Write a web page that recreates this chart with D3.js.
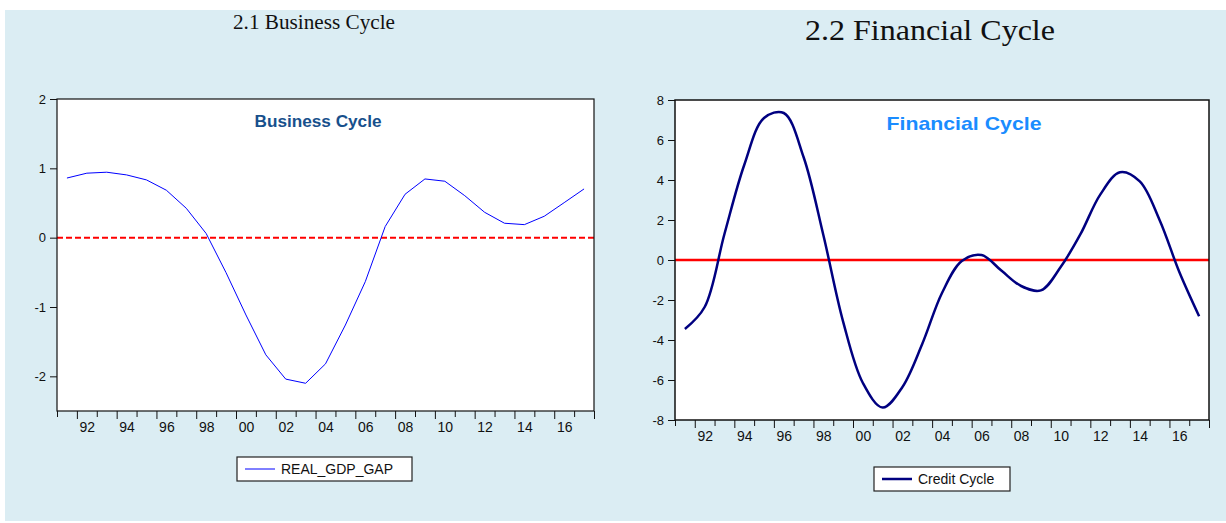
<!DOCTYPE html>
<html lang="en">
  <head>
    <meta charset="UTF-8" />
    <title>Business and Financial Cycle</title>
    <script src="https://cdn.jsdelivr.net/npm/d3@7/dist/d3.min.js"></script>
    <style>
      body { margin: 0; background: #fff; }
      .tick text { font-family: Arial, "Liberation Sans", sans-serif; fill: #111; }
      .tick line { stroke: #111; }
      .legend text { font: 14px Arial, "Liberation Sans", sans-serif; fill: #111; }
    </style>
  </head>
  <body>
    <svg width="1226" height="523"></svg>
    <script>
      const svg = d3.select("svg");

      // annual observations, 1991..2017
      const years = d3.range(1991, 2018);
      const gdpGap = [
        0.86, 0.93, 0.944, 0.905, 0.833, 0.684, 0.424, 0.06, -0.505, -1.115,
        -1.69, -2.04, -2.1, -1.82, -1.26, -0.635, 0.16, 0.626, 0.847, 0.814,
        0.606, 0.366, 0.208, 0.188, 0.309, 0.505, 0.703,
      ];
      const creditCycle = [
        -3.45, -2.35, 1.3, 4.75, 7.1, 7.35, 5.15, 1.25, -3.08, -6.15,
        -7.38, -6.35, -4.2, -1.65, -0.05, 0.25, -0.53, -1.3, -1.52, -0.35,
        1.29, 3.27, 4.39, 3.93, 2.0, -0.6, -2.81,
      ];
      const labelYears = d3.range(1992, 2017, 2);
      const leftYTicks = [-2, -1, 0, 1, 2];
      const rightYTicks = [-8, -6, -4, -2, 0, 2, 4, 6, 8];

      // panel background
      svg.append("rect")
        .attr("x", 5).attr("y", 10)
        .attr("width", 1221).attr("height", 511)
        .attr("fill", "#dbedf3");

      function panel(opt) {
        const x = d3.scaleLinear().domain([1991, 2018]).range([opt.left, opt.right]);
        const y = d3.scaleLinear().domain(opt.yDomain).range([opt.bottom, opt.top]);
        const g = svg.append("g");

        // heading above the plot
        g.append("text")
          .attr("x", opt.headX).attr("y", opt.headY)
          .attr("text-anchor", "middle")
          .attr("font-family", "'Liberation Serif', 'Times New Roman', serif")
          .attr("font-size", opt.headSize)
          .attr("textLength", opt.headLen)
          .attr("lengthAdjust", "spacingAndGlyphs")
          .attr("fill", "#111")
          .text(opt.heading);

        g.append("rect")
          .attr("x", opt.left).attr("y", opt.top)
          .attr("width", opt.right - opt.left).attr("height", opt.bottom - opt.top)
          .attr("fill", "#fff");

        // y axis (plain hyphen for negatives, as in the original)
        const ya = g.append("g")
          .attr("transform", `translate(${opt.left},0)`)
          .call(d3.axisLeft(y).tickValues(opt.yTicks).tickSize(7).tickPadding(4).tickFormat((d) => String(d)));
        ya.select(".domain").remove();
        ya.selectAll(".tick text").style("font-size", "13px");

        // year ticks: long at even years, short at odd
        const xa = g.append("g")
          .attr("transform", `translate(0,${opt.bottom})`)
          .call(d3.axisBottom(x).tickValues(d3.range(1991, 2019)).tickFormat(""));
        xa.select(".domain").remove();
        xa.selectAll(".tick line").attr("y2", (d) => (d % 2 === 0 ? 8 : 6));

        const xl = g.append("g")
          .attr("transform", `translate(0,${opt.bottom})`)
          .call(d3.axisBottom(x).tickValues(labelYears.map((d) => d + 0.5))
            .tickSize(0).tickPadding(opt.labelPad)
            .tickFormat((d) => d3.format("02d")(Math.floor(d) % 100)));
        xl.select(".domain").remove();
        xl.selectAll(".tick text").style("font-size", "14px");

        // zero line
        g.append("line")
          .attr("x1", opt.left).attr("x2", opt.right)
          .attr("y1", y(0)).attr("y2", y(0))
          .attr("stroke", "#ff0000")
          .attr("stroke-width", opt.zeroWidth)
          .attr("stroke-dasharray", opt.zeroDash);

        const line = d3.line()
          .x((d, i) => x(years[i] + 0.5))
          .y((d) => y(d))
          .curve(opt.curve);
        g.append("path")
          .datum(opt.values)
          .attr("fill", "none")
          .attr("stroke", opt.color)
          .attr("stroke-width", opt.width)
          .attr("d", line);

        g.append("rect")
          .attr("x", opt.left).attr("y", opt.top)
          .attr("width", opt.right - opt.left).attr("height", opt.bottom - opt.top)
          .attr("fill", "none")
          .attr("stroke", "#111")
          .attr("stroke-width", opt.frameWidth);

        // title inside plot
        g.append("text")
          .attr("x", opt.titleX).attr("y", opt.titleY)
          .attr("text-anchor", "middle")
          .attr("font-family", "Arial, 'Liberation Sans', sans-serif")
          .attr("font-weight", "bold")
          .attr("font-size", opt.titleSize)
          .attr("textLength", opt.titleLen)
          .attr("lengthAdjust", "spacingAndGlyphs")
          .attr("fill", opt.titleColor)
          .text(opt.title);

        // legend
        const lg = g.append("g").attr("class", "legend");
        const b = opt.legend;
        lg.append("rect")
          .attr("x", b.x).attr("y", b.y)
          .attr("width", b.w).attr("height", b.h)
          .attr("fill", "#fff").attr("stroke", "#222").attr("stroke-width", 1.2);
        lg.append("line")
          .attr("x1", b.x + 8).attr("x2", b.x + 8 + b.lineLen)
          .attr("y1", b.y + b.h / 2).attr("y2", b.y + b.h / 2)
          .attr("stroke", opt.color).attr("stroke-width", opt.width);
        lg.append("text")
          .attr("x", b.x + 14 + b.lineLen).attr("y", b.y + b.h / 2 + 5)
          .text(b.label);
      }

      panel({
        left: 57, right: 594, top: 99, bottom: 411,
        yDomain: [-2.5, 2], yTicks: leftYTicks, labelPad: 11,
        values: gdpGap, color: "#0000ff", width: 1, curve: d3.curveLinear,
        zeroDash: "6,3", zeroWidth: 2, frameWidth: 1.2,
        heading: "2.1 Business Cycle", headX: 314, headY: 29, headSize: 20, headLen: 162,
        title: "Business Cycle", titleX: 318, titleY: 127, titleSize: 16, titleLen: 127,
        titleColor: "#17508c",
        legend: { x: 237, y: 457, w: 175, h: 24, lineLen: 30, label: "REAL_GDP_GAP" },
      });

      panel({
        left: 675, right: 1209, top: 100, bottom: 420,
        yDomain: [-8, 8], yTicks: rightYTicks, labelPad: 11,
        values: creditCycle, color: "#000080", width: 2.5, curve: d3.curveCatmullRom,
        zeroDash: null, zeroWidth: 2.5, frameWidth: 1.5,
        heading: "2.2 Financial Cycle", headX: 930, headY: 40, headSize: 30, headLen: 250,
        title: "Financial Cycle", titleX: 964, titleY: 130, titleSize: 19, titleLen: 155,
        titleColor: "#1a8cff",
        legend: { x: 874, y: 467, w: 136, h: 24, lineLen: 30, label: "Credit Cycle" },
      });
    </script>
  </body>
</html>
